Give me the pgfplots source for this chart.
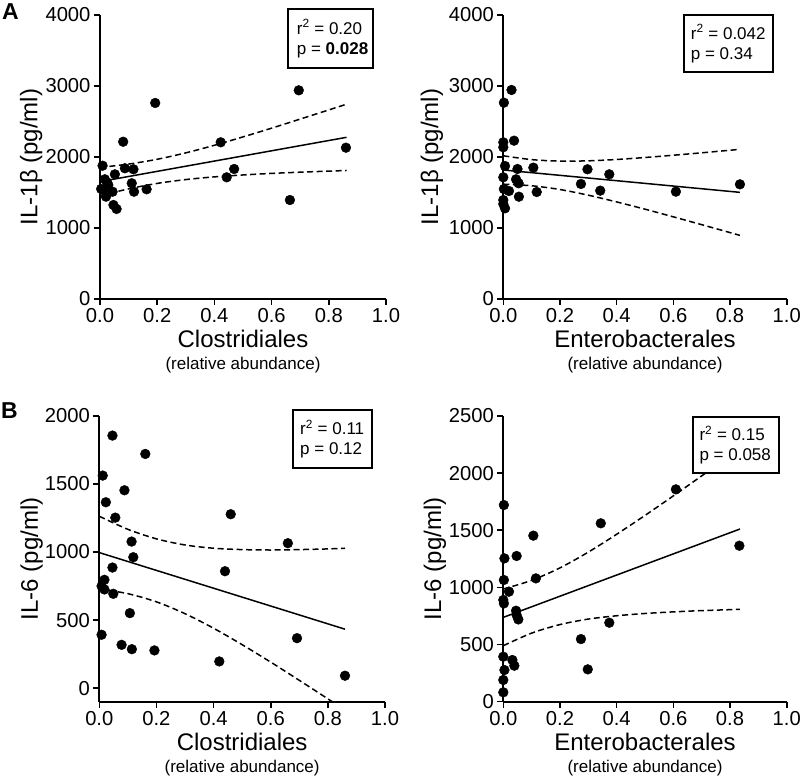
\documentclass[border=0pt]{standalone}
\usepackage{pgfplots}
\pgfplotsset{compat=1.18}
\usepackage{fontspec}
\setmainfont{Liberation Sans}
\pgfplotsset{
  myaxis/.style={
    scale only axis,
    axis x line*=bottom, axis y line*=left,
    axis line style={line width=1.9pt, black},
    every tick/.style={black, line width=1.6pt},
    tick align=outside, major tick length=6pt,
    xmin=0, xmax=1, xtick={0,0.2,0.4,0.6,0.8,1.0},
    /pgf/number format/assume math mode=true,
    x tick label style={/pgf/number format/.cd, fixed, fixed zerofill, precision=1},
    y tick label style={/pgf/number format/.cd, 1000 sep={}},
    scaled y ticks=false, scaled x ticks=false,
    tick label style={font=\fontsize{20.2}{22}\selectfont},
    every axis x label/.style={at={(axis description cs:0.5,-0.11)}, anchor=north, align=center, inner sep=0pt, font=\fontsize{24}{24}\selectfont},
    every axis y label/.style={at={(axis description cs:#1,0.5)}, anchor=center, rotate=90, inner sep=0pt, font=\fontsize{24}{24}\selectfont},
    clip mode=individual,
    anchor=south west,
  },
  pts/.style={only marks, mark=*, mark size=4.9pt, black},
  fit/.style={no marks, black, line width=1.5pt},
  ci/.style={no marks, black, line width=1.5pt, dash pattern=on 6pt off 3.5pt, smooth},
}
\newcommand{\sub}{\\[-2pt]{\fontsize{17}{18}\selectfont (relative abundance)}}
\begin{document}
\begin{tikzpicture}
\path[use as bounding box] (0pt,0pt) rectangle (800pt,776pt);

% ---------------- Panel A left ----------------
\begin{axis}[myaxis=-0.241, at={(100pt,477pt)}, width=286pt, height=284pt,
  ymin=0, ymax=4000, ytick={0,1000,2000,3000,4000},
  ylabel={IL-1β (pg/ml)}, xlabel={Clostridiales\sub}]
\addplot[pts] coordinates {
(0.009,1877) (0.017,1686) (0.012,1535) (0.021,1441) (0.029,1606)
(0.004,1550) (0.025,1640) (0.044,1511) (0.052,1756) (0.047,1324)
(0.058,1268) (0.081,2215) (0.087,1841) (0.117,1827) (0.111,1630)
(0.119,1511) (0.163,1545) (0.193,2761) (0.422,2207) (0.443,1714)
(0.469,1831) (0.664,1394) (0.695,2939) (0.860,2131)};
\addplot[fit] coordinates {(0,1653) (0.862,2277)};
\addplot[ci] coordinates {(0,1853) (0.1,1900) (0.2,1968) (0.3,2058) (0.4,2165) (0.5,2283) (0.6,2406) (0.7,2534) (0.8,2663) (0.862,2744)};
\addplot[ci] coordinates {(0,1453) (0.1,1551) (0.2,1628) (0.3,1682) (0.4,1720) (0.5,1747) (0.6,1769) (0.7,1786) (0.8,1801) (0.862,1810)};
\end{axis}

% ---------------- Panel A right ----------------
\begin{axis}[myaxis=-0.252, at={(503.3pt,477pt)}, width=283.4pt, height=284pt,
  ymin=0, ymax=4000, ytick={0,1000,2000,3000,4000},
  ylabel={IL-1β (pg/ml)}, xlabel={Enterobacterales\sub}]
\addplot[pts] coordinates {
(0.029,2944) (0.002,2765) (0.038,2230) (0.0,2207) (0.0,2137)
(0.006,1873) (0.050,1831) (0.106,1850) (0.0,1714) (0.045,1686)
(0.054,1630) (0.002,1549) (0.020,1521) (0.118,1507) (0.055,1441)
(0.0,1394) (0.0,1338) (0.006,1277) (0.274,1620) (0.297,1827)
(0.342,1526) (0.374,1756) (0.609,1512) (0.835,1615)};
\addplot[fit] coordinates {(0,1817) (0.835,1502)};
\addplot[ci] coordinates {(0,2017) (0.1,1963) (0.2,1942) (0.3,1946) (0.4,1965) (0.5,1993) (0.6,2025) (0.7,2059) (0.835,2108)};
\addplot[ci] coordinates {(0,1617) (0.1,1595) (0.2,1542) (0.3,1462) (0.4,1367) (0.5,1265) (0.6,1157) (0.7,1047) (0.835,896)};
\end{axis}

% ---------------- Panel B left ----------------
\begin{axis}[myaxis=-0.237, at={(99.3pt,74.3pt)}, width=285.7pt, height=285.7pt,
  ymin=-100, ymax=2000, ytick={0,500,1000,1500,2000},
  ylabel={IL-6 (pg/ml)}, xlabel={Clostridiales\sub}]
\addplot[pts] coordinates {
(0.012,1562) (0.046,1856) (0.161,1721) (0.023,1366) (0.088,1454)
(0.056,1253) (0.113,1077) (0.119,962) (0.046,886) (0.018,796)
(0.008,750) (0.018,725) (0.049,693) (0.107,551) (0.008,392)
(0.078,318) (0.114,286) (0.193,277) (0.420,196) (0.440,859)
(0.460,1278) (0.660,1065) (0.692,367) (0.860,91)};
\addplot[fit] coordinates {(0,996) (0.86,433)};
\addplot[ci] coordinates {(0,1263) (0.1,1167) (0.2,1097) (0.3,1052) (0.4,1028) (0.5,1018) (0.6,1015) (0.7,1018) (0.8,1023) (0.86,1028)};
\addplot[ci] coordinates {(0,729) (0.1,694) (0.2,634) (0.3,547) (0.4,440) (0.5,319) (0.6,191) (0.7,57) (0.8,-79) (0.86,-162)};
\end{axis}

% ---------------- Panel B right ----------------
\begin{axis}[myaxis=-0.241, at={(503.3pt,74.3pt)}, width=283.4pt, height=285.7pt,
  ymin=0, ymax=2500, ytick={0,500,1000,1500,2000,2500},
  ylabel={IL-6 (pg/ml)}, xlabel={Enterobacterales\sub}]
\addplot[pts] coordinates {
(0.002,1721) (0.004,1254) (0.002,1065) (0.0,890) (0.002,860)
(0.020,963) (0.047,1275) (0.106,1453) (0.115,1079) (0.045,796)
(0.047,758) (0.053,720) (0.0,394) (0.032,365) (0.039,315)
(0.004,277) (0.0,190) (0.0,82) (0.274,548) (0.298,283)
(0.344,1561) (0.374,691) (0.609,1858) (0.833,1365)};
\addplot[fit] coordinates {(0,738) (0.835,1511)};
\addplot[ci] coordinates {(0,986) (0.1,1062) (0.2,1171) (0.3,1309) (0.4,1465) (0.5,1630) (0.6,1801) (0.7,1976) (0.835,2214)};
\addplot[ci] coordinates {(0,490) (0.1,600) (0.2,675) (0.3,723) (0.4,752) (0.5,772) (0.6,786) (0.7,797) (0.835,808)};
\end{axis}

% ---------------- statistic boxes ----------------
\begin{scope}[x=1pt, y=1pt, every node/.style={font=\fontsize{17}{20}\selectfont, align=left, anchor=west, inner sep=0pt}]
\draw[line width=1.1pt, fill=white] (288,708) rectangle (373,767);
\node at (296.7,737.5) {r\textsuperscript{2} = 0.20\\p = \textbf{0.028}};
\draw[line width=1.1pt, fill=white] (684,704) rectangle (773,761);
\node at (690.7,732.5) {r\textsuperscript{2} = 0.042\\p = 0.34};
\draw[line width=1.1pt, fill=white] (293,308) rectangle (372,366);
\node at (300,337) {r\textsuperscript{2} = 0.11\\p = 0.12};
\draw[line width=1.1pt, fill=white] (693,303) rectangle (779,359);
\node at (699.3,331) {r\textsuperscript{2} = 0.15\\p = 0.058};
\node[font=\bfseries\fontsize{23}{24}\selectfont, anchor=center] at (10.5,764.5) {A};
\node[font=\bfseries\fontsize{23}{24}\selectfont, anchor=center] at (9.5,365.5) {B};
\end{scope}
\end{tikzpicture}
\end{document}
